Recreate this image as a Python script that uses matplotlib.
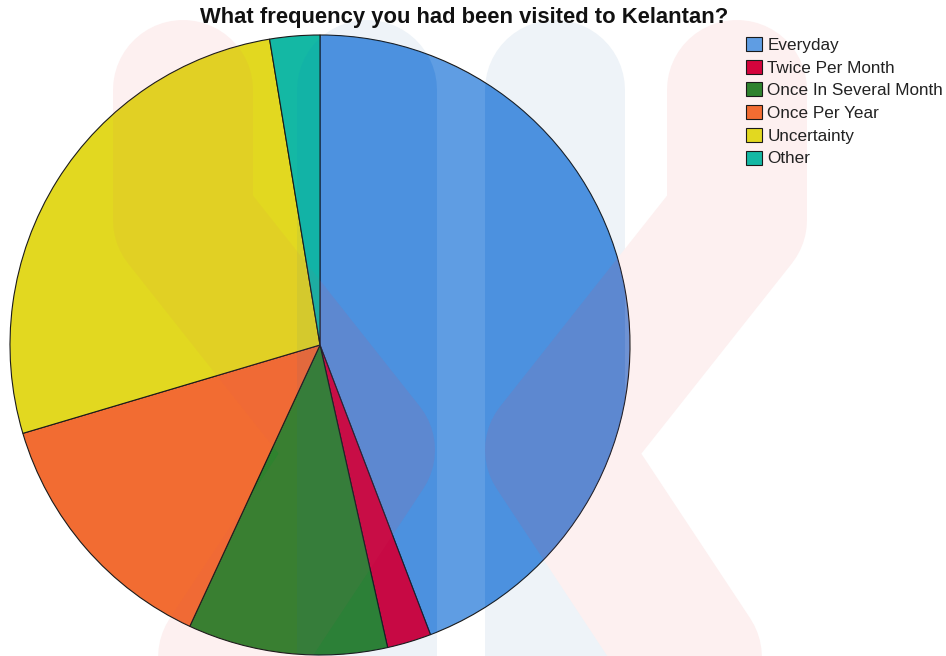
import matplotlib.pyplot as plt
from matplotlib.patches import Circle

plt.rcParams['font.family'] = ['Liberation Sans', 'DejaVu Sans']

labels = ["Everyday", "Twice Per Month", "Once In Several Month",
          "Once Per Year", "Uncertainty", "Other"]
shares = [44.2, 2.3, 10.4, 13.5, 27.0, 2.6]
colors = ["#5f9de3", "#d4043c", "#2f822e", "#f26c32", "#e2d820", "#14b8a4"]

W, H = 946, 656
fig = plt.figure(figsize=(W / 100, H / 100), dpi=100)

# logo watermark strokes, in pixel coords (x right, y down)
stroke_w = 140 * 0.72
blue_bars = [[(367, 90), (367, 760)], [(555, 90), (555, 760)]]
pink_strokes = [[(183, 90), (183, 220), (365, 450), (160, 760)],
                [(737, 90), (737, 220), (555, 450), (760, 760)]]


def draw_marks(a, strokes, color, alpha, clip=None):
    for pts in strokes:
        xs, ys = zip(*pts)
        ln, = a.plot(xs, ys, color=color, alpha=alpha, lw=stroke_w,
                     solid_capstyle="round", solid_joinstyle="round")
        if clip is not None:
            ln.set_clip_path(clip)


def pixel_axes(z):
    a = fig.add_axes([0, 0, 1, 1], zorder=z)
    a.set_xlim(0, W)
    a.set_ylim(H, 0)
    a.axis("off")
    return a


bg = pixel_axes(0)
draw_marks(bg, blue_bars, "#eef3f8", 1.0)
draw_marks(bg, pink_strokes, "#fdf0f0", 1.0)

# pie: centre (320,345), radius 310 px
ax = fig.add_axes([10 / W, 1 / H, 620 / W, 620 / H], zorder=1)
wedges, _ = ax.pie(shares, colors=colors, startangle=90, counterclock=False,
                   wedgeprops=dict(edgecolor="#1a1a1a", linewidth=0.8))
ax.set_xlim(-1, 1)
ax.set_ylim(-1, 1)
ax.set_aspect("equal")
ax.axis("off")

# the watermark tints the slices where it crosses them (mostly the blue one)
ov = pixel_axes(2)
disk = Circle((320, 345), 310, transform=ov.transData)
draw_marks(ov, blue_bars, "#0064d3", 0.06, clip=disk)
draw_marks(ov, blue_bars, "#0064d3", 0.14, clip=wedges[0])
draw_marks(ov, pink_strokes, "#dc506e", 0.06, clip=disk)
draw_marks(ov, pink_strokes, "#dc506e", 0.07, clip=wedges[0])

fig.text(464 / W, 1 - 17 / H, "What frequency you had been visited to Kelantan?",
         ha="center", va="center", fontsize=15.8, fontweight="bold", color="#111111",
         zorder=3)

leg = ax.legend(wedges, labels, loc="upper left",
                bbox_to_anchor=(746 / W, 1 - 37 / H), bbox_transform=fig.transFigure,
                frameon=False, fontsize=12.3, borderpad=0, borderaxespad=0,
                handlelength=0.94, handleheight=0.88, handletextpad=0.3,
                labelspacing=0.40)
for t in leg.get_texts():
    t.set_color("#222222")
leg.set_zorder(3)

fig.savefig("out.png", dpi=100)
